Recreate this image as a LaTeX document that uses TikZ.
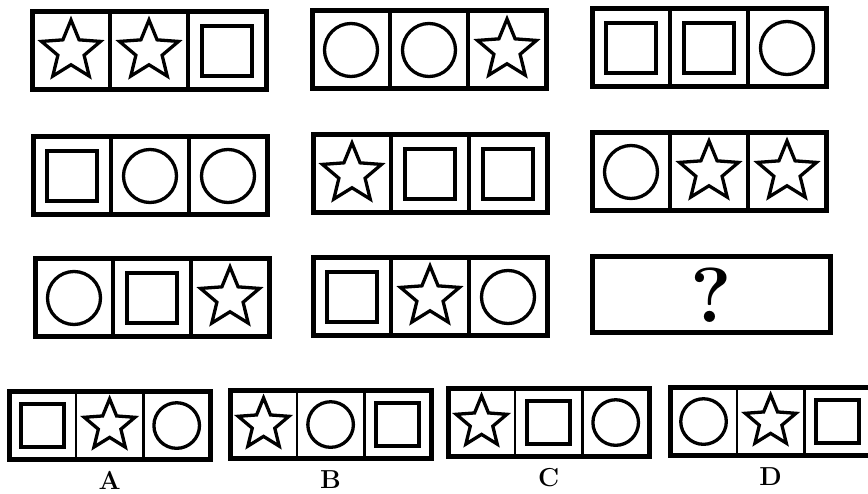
\documentclass[tikz,border=0pt]{standalone}
\usepackage{fontspec}
\usetikzlibrary{positioning,fit,shapes.geometric}
\newcommand\marksc{1}
\tikzset{
  cell/.style={draw, line width=3.2pt*\marksc, minimum size=78pt*\marksc, inner sep=0pt, outer sep=0pt},
  strip/.style={draw, line width=5pt, inner sep=0pt},
  sqmark/.style={draw, line width=3.8pt, minimum size=50pt*\marksc, inner sep=0pt},
  ringmark/.style={circle, draw, line width=3.3pt, minimum size=53pt*\marksc, inner sep=0pt},
  starmark/.style={star, star points=5, star point ratio=2.25, draw, line width=3.3pt, minimum size=62pt*\marksc, inner sep=0pt},
  qmark/.style={font=\fontsize{78}{78}\selectfont\bfseries},
  tag/.style={font=\fontsize{26}{28}\selectfont\bfseries, inner sep=0pt}
}

\begin{document}
\begin{tikzpicture}[x=1pt, y=-1pt]
\useasboundingbox (0,0) rectangle (868,494);
% the 3x3 grid
\foreach \nm/\x/\y/\a/\b/\c in {
  r1a/32/12/starmark/starmark/sqmark, r1b/312/11/ringmark/ringmark/starmark, r1c/592/9/sqmark/sqmark/ringmark,
  r2a/33/137/sqmark/ringmark/ringmark, r2b/313/135/starmark/sqmark/sqmark, r2c/592/133/ringmark/starmark/starmark,
  r3a/35/259/ringmark/sqmark/starmark, r3b/313/258/sqmark/starmark/ringmark}
{
  \foreach \s [count=\i] in {\a,\b,\c} {
    \node[cell] (\nm-\i) at ({\x+78*(\i-0.5)}, {\y+39}) {};
    \node[\s] at (\nm-\i) {};
  }
  \node[strip, fit=(\nm-1)(\nm-3)] (\nm) {};
}
\node[strip, qmark, minimum width=238pt, minimum height=76pt] (q) at (711,295) {?};
% answer options
\begin{scope}
\renewcommand\marksc{0.86}
\foreach \nm/\x/\y/\a/\b/\c in {
  A/9/392/sqmark/starmark/ringmark, B/230/391/starmark/ringmark/sqmark,
  C/448/389/starmark/sqmark/ringmark, D/670/388/ringmark/starmark/sqmark}
{
  \foreach \s [count=\i] in {\a,\b,\c} {
    \node[cell] (opt\nm-\i) at ({\x+78*\marksc*(\i-0.5)}, {\y+39*\marksc}) {};
    \node[\s] at (opt\nm-\i) {};
  }
  \node[strip, fit=(opt\nm-1)(opt\nm-3)] (opt\nm) {};
  \node[tag, below=10pt of opt\nm] (tag\nm) {\nm};
}
\end{scope}
\end{tikzpicture}
\end{document}
